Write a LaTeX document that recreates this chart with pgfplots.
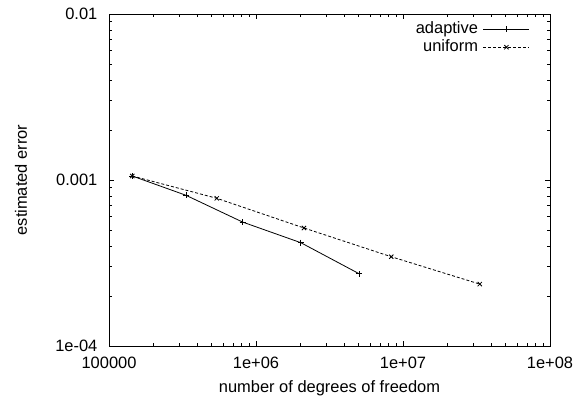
\documentclass[border=0pt]{standalone}
\usepackage{fontspec}
\setmainfont{Liberation Sans}
\usepackage{pgfplots}
\pgfplotsset{compat=1.18}
\begin{document}
\fontsize{16.5}{20}\selectfont
\begin{tikzpicture}
\begin{axis}[
  xmode=log, ymode=log,
  scale only axis,
  width=441bp, height=332bp,
  xmin=1e5, xmax=1e8, ymin=1e-4, ymax=1e-2,
  xtick={1e5,1e6,1e7,1e8},
  xticklabels={100000,1e+06,1e+07,1e+08},
  ytick={1e-4,1e-3,1e-2},
  yticklabels={1e-04,0.001,0.01},
  minor xtick={2e5,3e5,4e5,5e5,6e5,7e5,8e5,9e5,2e6,3e6,4e6,5e6,6e6,7e6,8e6,9e6,2e7,3e7,4e7,5e7,6e7,7e7,8e7,9e7},
  minor ytick={2e-4,3e-4,4e-4,5e-4,6e-4,7e-4,8e-4,9e-4,2e-3,3e-3,4e-3,5e-3,6e-3,7e-3,8e-3,9e-3},
  tick align=inside,
  major tick length=5bp, minor tick length=3bp,
  axis line style={line width=1bp},
  every tick/.style={black, line width=0.8bp},
  xticklabel style={yshift=-5bp},
  yticklabel style={xshift=-6bp},
  xlabel={number of degrees of freedom},
  ylabel={estimated error},
  xlabel style={at={(axis description cs:0.5,-0.1265)}, anchor=center},
  ylabel style={at={(axis description cs:-0.1995,0.5)}, anchor=center},
  legend style={draw=none, fill=none, at={(axis description cs:0.9546,0.979)}, anchor=north east,
    inner sep=0pt, row sep=2bp, column sep=4bp,
    nodes={inner sep=1bp, text height=11bp, text depth=3bp}},
  legend cell align=right,
  legend plot pos=right,
  legend image code/.code={\draw[mark repeat=2,mark phase=2] plot coordinates {(0bp,0bp) (23bp,0bp) (46bp,0bp)};},
]
\addplot[black, line width=0.8bp, mark=+, mark size=3bp, mark options={solid}] coordinates {
  (1.44e5,1.057e-3) (3.34e5,8.09e-4) (8.11e5,5.58e-4) (2.02e6,4.19e-4) (5.05e6,2.72e-4)
};
\addlegendentry{adaptive}
\addplot[black, line width=0.8bp, dash pattern=on 3bp off 2bp, mark=x, mark size=3bp, mark options={solid}] coordinates {
  (1.44e5,1.057e-3) (5.41e5,7.76e-4) (2.12e6,5.14e-4) (8.32e6,3.45e-4) (3.33e7,2.36e-4)
};
\addlegendentry{uniform}
\end{axis}
\pgfresetboundingbox
\path[use as bounding box] (-109bp,-54bp) rectangle (472bp,346bp);
\end{tikzpicture}
\end{document}
